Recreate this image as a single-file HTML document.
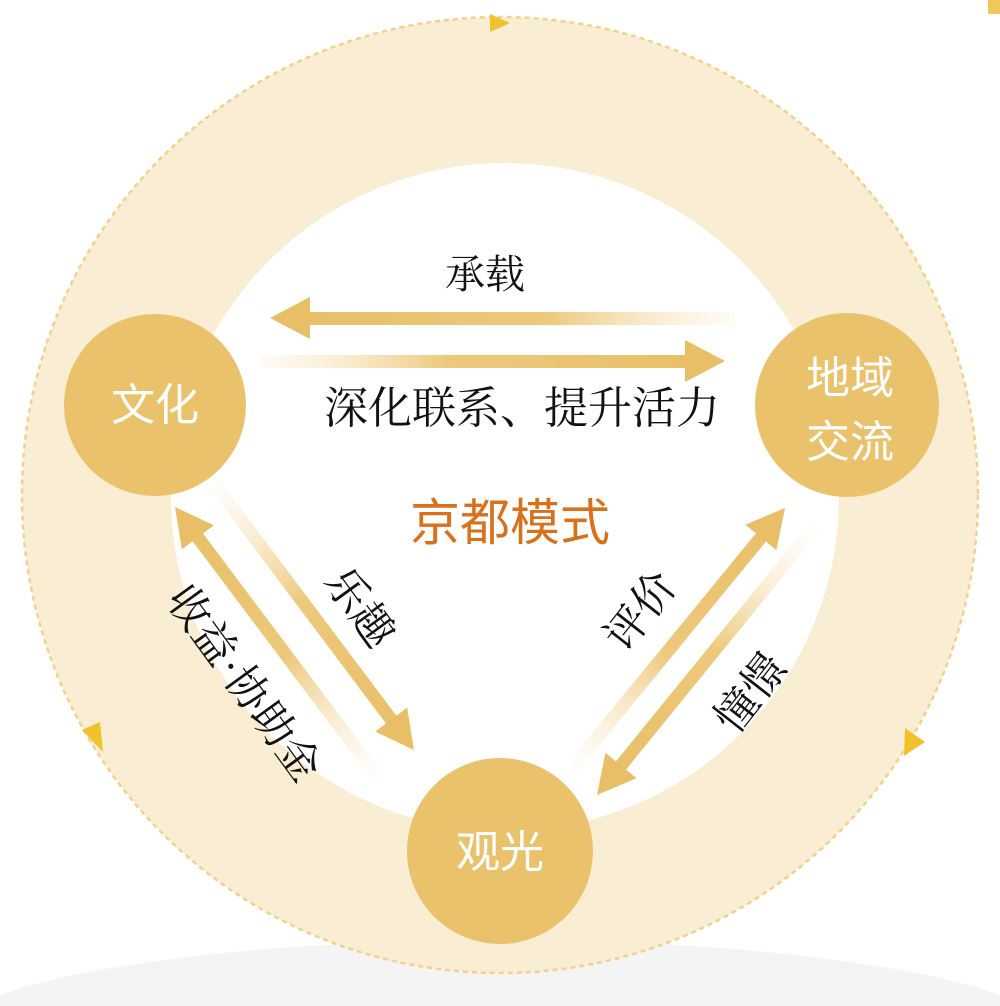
<!DOCTYPE html>
<html><head><meta charset="utf-8">
<style>
html,body{margin:0;padding:0;background:#fff;width:1000px;height:1006px;overflow:hidden;}
svg{display:block;}
text{font-family:"Liberation Serif","Noto Serif CJK SC",serif;}
.w{font-family:"Liberation Sans","Noto Sans CJK SC",sans-serif;fill:#fff;}
</style></head>
<body>
<svg width="1000" height="1006" viewBox="0 0 1000 1006" xmlns="http://www.w3.org/2000/svg">
<defs>
<linearGradient id="gL" gradientUnits="userSpaceOnUse" x1="270" y1="0" x2="735" y2="0">
<stop offset="0" stop-color="#e8be66"/><stop offset="0.6" stop-color="#edc97c"/><stop offset="1" stop-color="#fbecd0" stop-opacity="0.2"/></linearGradient>
<linearGradient id="gR" gradientUnits="userSpaceOnUse" x1="260" y1="0" x2="725" y2="0">
<stop offset="0" stop-color="#fbecd0" stop-opacity="0.2"/><stop offset="0.4" stop-color="#edc97c"/><stop offset="1" stop-color="#e8be66"/></linearGradient>
<linearGradient id="gD" gradientUnits="userSpaceOnUse" x1="0" y1="0" x2="340" y2="0">
<stop offset="0" stop-color="#e8be66"/><stop offset="0.55" stop-color="#edc97c"/><stop offset="1" stop-color="#fbecd0" stop-opacity="0.05"/></linearGradient>
</defs>
<rect width="1000" height="1006" fill="#fff"/>
<ellipse cx="500" cy="1040" rx="560" ry="100" fill="#f4f4f4"/>
<rect x="988" y="0" width="12" height="14" fill="#f0c85a"/>
<circle cx="500" cy="495" r="478" fill="#f9edd3" stroke="#f0d28c" stroke-width="2.5" stroke-dasharray="5 4"/>
<circle cx="505" cy="497" r="334" fill="#fff"/>
<polygon points="490,14 490,32 510,23" fill="#f1c22c"/>
<polygon points="82,730 100,722 103,752" fill="#f1c22c"/>
<polygon points="905,728 925,742 904,756" fill="#f1c22c"/>
<rect x="305" y="312" width="430" height="13" fill="url(#gL)"/>
<polygon points="270,318 310,297 310,339" fill="#e8be66"/>
<rect x="260" y="355" width="430" height="13" fill="url(#gR)"/>
<polygon points="725,361 685,340 685,382" fill="#e8be66"/>
<g transform="translate(175,507) rotate(53.1)">
<rect x="30" y="-6.5" width="310" height="13" fill="url(#gD)"/>
<polygon points="0,0 38,-20 38,20" fill="#e8be66"/>
</g>
<g transform="translate(414,750) rotate(233.1)">
<rect x="30" y="-6.5" width="310" height="13" fill="url(#gD)"/>
<polygon points="0,0 38,-20 38,20" fill="#e8be66"/>
</g>
<g transform="translate(785,508) rotate(129.3)">
<rect x="30" y="-6.5" width="310" height="13" fill="url(#gD)"/>
<polygon points="0,0 38,-20 38,20" fill="#e8be66"/>
</g>
<g transform="translate(597,795) rotate(-50.9)">
<rect x="30" y="-6.5" width="320" height="13" fill="url(#gD)"/>
<polygon points="0,0 38,-20 38,20" fill="#e8be66"/>
</g>
<circle cx="155" cy="405" r="91" fill="#ebc26c"/>
<circle cx="847" cy="405" r="92" fill="#ebc26c"/>
<circle cx="500" cy="851" r="93" fill="#ebc26c"/>
<text class="w" x="155" y="420" font-size="44" text-anchor="middle">文化</text>
<text class="w" x="850" y="393" font-size="44" text-anchor="middle">地域</text>
<text class="w" x="850" y="457" font-size="44" text-anchor="middle">交流</text>
<text class="w" x="500" y="867" font-size="44" text-anchor="middle">观光</text>
<text x="485" y="288" font-size="40" text-anchor="middle" fill="#111">承载</text>
<text x="522" y="423" font-size="44" text-anchor="middle" fill="#111">深化联系、提升活力</text>
<text x="510" y="540" font-size="50" text-anchor="middle" fill="#d8701c" style="font-family:'Liberation Sans','Noto Sans CJK SC',sans-serif">京都模式</text>
<text x="0" y="0" font-size="43" text-anchor="middle" fill="#111" transform="translate(348,616) rotate(54)">乐趣</text>
<text x="0" y="0" font-size="43" text-anchor="middle" fill="#111" transform="translate(232,692) rotate(54)">收益·协助金</text>
<text x="0" y="0" font-size="43" text-anchor="middle" fill="#111" transform="translate(652,620) rotate(-52)">评价</text>
<text x="0" y="0" font-size="43" text-anchor="middle" fill="#111" transform="translate(762,702) rotate(-52)">憧憬</text>
</svg>
</body></html>
